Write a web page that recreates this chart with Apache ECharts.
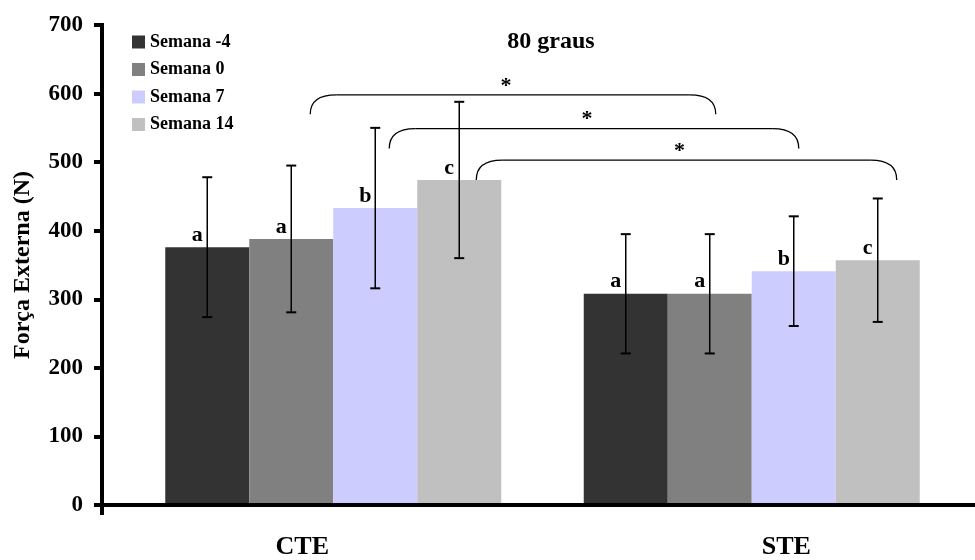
<!DOCTYPE html>
<html>
<head>
<meta charset="utf-8">
<script src="https://cdn.jsdelivr.net/npm/echarts@6/dist/echarts.min.js"></script>
<style>html,body{margin:0;padding:0;background:#fff;}#c{width:975px;height:560px;}</style>
</head>
<body>
<div id="c"></div>
<script>
// ---- data ----
const categories = ['CTE', 'STE'];
const seriesNames = ['Semana -4', 'Semana 0', 'Semana 7', 'Semana 14'];
const semanaM4 = [376, 308];
const semana0  = [388, 308];
const semana7  = [433, 341];
const semana14 = [474, 357];
const sdM4 = [102, 87];
const sd0  = [107, 87];
const sd7  = [117, 80];
const sd14 = [114, 90];
const lettersM4 = ['a', 'a'];
const letters0  = ['a', 'a'];
const letters7  = ['b', 'b'];
const letters14 = ['c', 'c'];
const yTicks = [0, 100, 200, 300, 400, 500, 600, 700];
const titleText = '80 graus';
const yName = 'Força Externa (N)';
// significance brackets: series index compared between CTE and STE, bracket levels (N)
const sigSeries = [1, 2, 3];
const sigTop = [598, 549, 503];
const sigBottom = [570, 520, 474];
const sigMark = ['*', '*', '*'];

// ---- chart ----
const means = [semanaM4, semana0, semana7, semana14];
const sds = [sdM4, sd0, sd7, sd14];
const letters = [lettersM4, letters0, letters7, letters14];
const colors = ['#333333', '#808080', '#ccccff', '#c0c0c0'];
const BAR_W = 84;
const FONT = '"Liberation Serif", "Times New Roman", serif';

const chart = echarts.init(document.getElementById('c'), null, {renderer: 'canvas'});

const series = [];
seriesNames.forEach((n, s) => {
  series.push({
    name: n, type: 'bar', data: means[s], barWidth: BAR_W, barGap: '0%',
    itemStyle: {color: colors[s]},
    z: 2,
    label: {
      show: true, position: 'top', distance: 1, offset: [-10, 0],
      formatter: p => letters[s][p.dataIndex],
      fontFamily: FONT, fontWeight: 'bold', fontSize: 22, color: '#000'
    }
  });
});
seriesNames.forEach((n, s) => {
  series.push({
    name: 'err' + s, type: 'custom', z: 5,
    data: means[s].map((m, i) => [i, m - sds[s][i], m + sds[s][i]]),
    renderItem: (params, api) => {
      const c = api.value(0);
      const lo = api.coord([c, api.value(1)]);
      const hi = api.coord([c, api.value(2)]);
      const x = lo[0] + (s - 1.5) * BAR_W;
      const cw = 5;
      const st = {stroke: '#000', lineWidth: 1.5};
      return {type: 'group', children: [
        {type: 'line', shape: {x1: x, y1: lo[1], x2: x, y2: hi[1]}, style: st},
        {type: 'line', shape: {x1: x - cw, y1: lo[1], x2: x + cw, y2: lo[1]}, style: {stroke: '#000', lineWidth: 2}},
        {type: 'line', shape: {x1: x - cw, y1: hi[1], x2: x + cw, y2: hi[1]}, style: {stroke: '#000', lineWidth: 2}}
      ]};
    }
  });
});

chart.setOption({
  animation: false,
  backgroundColor: '#fff',
  textStyle: {fontFamily: FONT},
  title: {
    text: titleText, left: 546, top: 25, textAlign: 'center',
    textStyle: {fontFamily: FONT, fontWeight: 'bold', fontSize: 24, color: '#000'}
  },
  legend: {
    data: seriesNames, orient: 'vertical', left: 127, top: 28,
    itemWidth: 13, itemHeight: 13, itemGap: 9.5, icon: 'rect',
    textStyle: {fontFamily: FONT, fontWeight: 'bold', fontSize: 18, color: '#000'}
  },
  grid: {left: 124, top: 25, width: 837, height: 483, containLabel: false},
  xAxis: {
    type: 'category', data: categories,
    axisLine: {show: false}, axisTick: {show: false},
    axisLabel: {
      margin: 29,
      formatter: v => v === 'CTE' ? '{l|' + v + '}' : '{r|' + v + '}',
      rich: {
        l: {fontFamily: FONT, fontWeight: 'bold', fontSize: 26, color: '#000', padding: [0, 62, 0, 0]},
        r: {fontFamily: FONT, fontWeight: 'bold', fontSize: 26, color: '#000', padding: [0, 0, 0, 69]}
      }
    }
  },
  yAxis: {
    type: 'value', min: yTicks[0], max: yTicks[yTicks.length - 1], interval: 100,
    offset: 22,
    name: yName, nameLocation: 'middle', nameRotate: 90, nameGap: 67,
    nameTextStyle: {fontFamily: FONT, fontWeight: 'bold', fontSize: 24, color: '#000'},
    axisLine: {show: false},
    axisTick: {show: true, length: 8, lineStyle: {color: '#000', width: 4}},
    splitLine: {show: false},
    axisLabel: {margin: 19, fontFamily: FONT, fontWeight: 'bold', fontSize: 23, color: '#000'}
  },
  series: series
});

// axis lines and significance brackets
const y0 = chart.convertToPixel({yAxisIndex: 0}, yTicks[0]);
const yTop = chart.convertToPixel({yAxisIndex: 0}, yTicks[yTicks.length - 1]);
const gridLeft = 124, axisX = gridLeft - 22;
const graphics = [
  {type: 'line', z: 10, shape: {x1: axisX - 2, y1: y0, x2: 975, y2: y0}, style: {stroke: '#000', lineWidth: 4}},
  {type: 'line', z: 10, shape: {x1: axisX, y1: yTop - 2, x2: axisX, y2: y0 + 10}, style: {stroke: '#000', lineWidth: 4}}
];
const leftDx = [19, 14, 17];
const rightDx = [6, 5, 19];
const bst = {stroke: '#000', lineWidth: 1.3, fill: null};
sigSeries.forEach((s, k) => {
  const c0 = chart.convertToPixel({xAxisIndex: 0}, 0);
  const c1 = chart.convertToPixel({xAxisIndex: 0}, 1);
  const x1 = c0 + (s - 1.5) * BAR_W + leftDx[k];
  const x2 = c1 + (s - 1.5) * BAR_W + rightDx[k];
  const yt = chart.convertToPixel({yAxisIndex: 0}, sigTop[k]);
  const yb = chart.convertToPixel({yAxisIndex: 0}, sigBottom[k]);
  const r = 26;
  graphics.push({type: 'bezierCurve', z: 10, shape: {x1: x1, y1: yb, cpx1: x1, cpy1: yt, x2: x1 + r, y2: yt}, style: bst});
  graphics.push({type: 'line', z: 10, shape: {x1: x1 + r, y1: yt, x2: x2 - r, y2: yt}, style: bst});
  graphics.push({type: 'bezierCurve', z: 10, shape: {x1: x2 - r, y1: yt, cpx1: x2, cpy1: yt, x2: x2, y2: yb}, style: bst});
  graphics.push({
    type: 'text', z: 10, x: (x1 + x2) / 2 - 7, y: yt - 9,
    style: {text: sigMark[k], fontFamily: FONT, fontWeight: 'bold', fontSize: 22, fill: '#000', align: 'center', verticalAlign: 'middle'}
  });
});
chart.setOption({graphic: graphics});
</script>
</body>
</html>
